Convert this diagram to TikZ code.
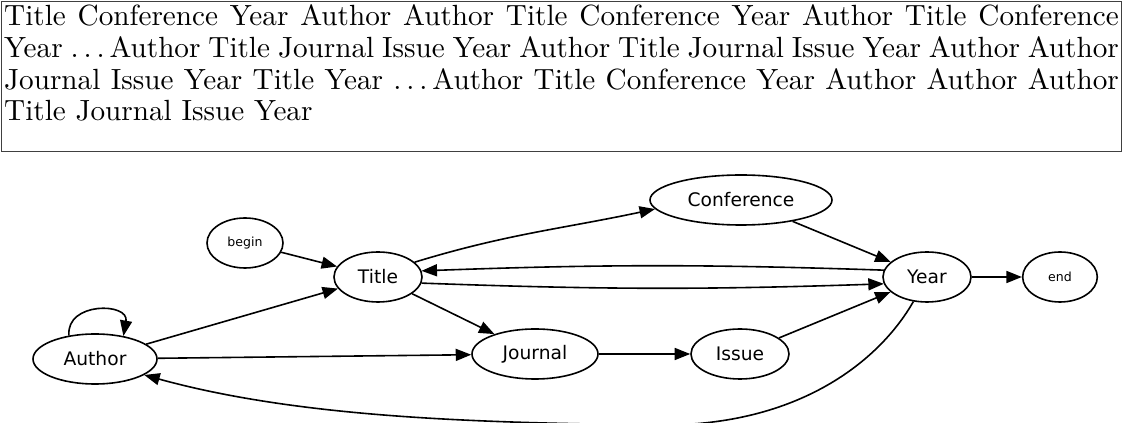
\documentclass[tikz,border=0pt]{standalone}
\usepackage{fontspec}
\newfontfamily\gvfont{DejaVu Sans}
\usetikzlibrary{shapes.geometric, arrows.meta, positioning}

\newcommand\skipdots{.\kern\fontdimen3\font.\kern\fontdimen3\font.\kern\fontdimen3\font}

\tikzset{
    field/.style={ellipse, draw, line width=0.6pt, inner sep=0pt, minimum height=18.75pt, font=\gvfont\fontsize{7}{8}\selectfont},
    tag/.style={field, font=\gvfont\fontsize{4.7}{6}\selectfont},
    link/.style={->, line width=0.6pt},
}

\begin{document}
\begin{tikzpicture}[x=0.375pt, y=-0.375pt, >={Triangle[length=5.8pt, width=4.5pt]}]
    \useasboundingbox (0,0) rectangle (1124,423);

    % the sequence of fields
    \node [draw=black!75, anchor=north west, inner xsep=1pt, inner ysep=0pt] (seq) at (1,1) {\parbox[c][56.25pt][t]{418pt}{\fontsize{10.95}{11.9}\selectfont\rule{0pt}{9.1pt}%
        Title Conference Year Author Author Title Conference Year Author Title Conference\linebreak
        Year \skipdots Author Title Journal Issue Year Author Title Journal Issue Year Author Author\linebreak
        Journal Issue Year Title Year \skipdots Author Title Conference Year Author Author Author\linebreak
        Title Journal Issue Year}};

    % the fields
    \node [tag, minimum width=28.5pt] (start) at (245,243) {begin};
    \node [field, minimum width=33pt] (title) at (378,277) {Title};
    \node [field, minimum width=68.25pt] (conf) at (741,200) {Conference};
    \node [field, minimum width=33pt] (year) at (927,277) {Year};
    \node [tag, minimum width=28pt] (finish) at (1060,277) {end};
    \node [field, minimum width=46.5pt] (author) at (95,359) {Author};
    \node [field, minimum width=47.25pt] (journal) at (535,354) {Journal};
    \node [field, minimum width=36.75pt] (issue) at (740,354) {Issue};

    \draw[link] (start) -- (title);
    \draw[link] (author) -- (title);
    \draw[link] (author.138) to[out=95, in=80, looseness=1.6] (author.39);
    \draw[link] (author) -- (journal);
    \draw[link] (title) -- (journal);
    \draw[link] (title.22) to[out=17, in=192] (conf.186);
    \draw[link] (title.-8) to[bend right=2] (year.189);
    \draw[link] (year.171) to[bend right=2] (title.8);
    \draw[link] (conf) -- (year);
    \draw[link] (journal) -- (issue);
    \draw[link] (issue) -- (year);
    \draw[link] (year) -- (finish);
    \draw[link] (year.241) .. controls (880,360) and (800,426) .. (660,425) .. controls (480,423) and (300,418) .. (author.-18);
\end{tikzpicture}
\end{document}
